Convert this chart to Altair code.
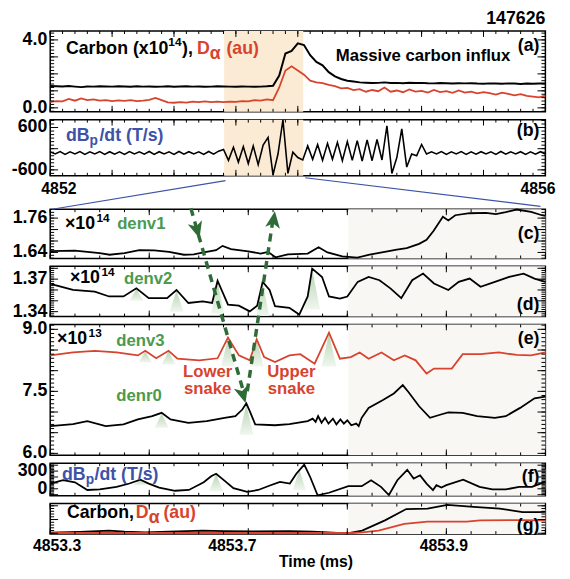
import altair as alt
import numpy as np
import pandas as pd

FONT = "Liberation Sans, Arial, Helvetica, sans-serif"
RED = "#d8432e"
GREEN = "#4b9a4e"
DKGREEN = "#2e6b36"
BLUE = "#3d52a8"
PEACH = "#fbebd4"
PALE = "#f8f7f4"
W = 503

# ---------------- data ----------------
# (a) Carbon (x1e14) and D-alpha (au), one value every 0.05 ms from 4852.00 ms
A_T0, A_DT = 4852.0, 0.05
A_CARBON = [1.28, 1.27, 1.26, 1.28, 1.25, 1.22, 1.26, 1.25, 1.27, 1.26,
            1.25, 1.27, 1.26, 1.24, 1.27, 1.25, 1.26, 1.24, 1.25, 1.27,
            1.24, 1.26, 1.27, 1.25, 1.26, 1.24, 1.25, 1.27, 1.26, 1.25,
            1.24, 1.26, 1.25, 1.24, 1.25, 1.27,
            1.30, 1.90, 3.20, 3.35, 3.80, 3.70, 3.10, 2.70, 2.50, 2.10, 1.85, 1.70, 1.60, 1.55, 1.50,
            1.48, 1.46, 1.47, 1.50, 1.46, 1.47, 1.45, 1.48, 1.46, 1.47,
            1.45, 1.44, 1.46, 1.45, 1.43, 1.45, 1.44, 1.45, 1.43, 1.42,
            1.44, 1.43, 1.42, 1.44, 1.43, 1.41, 1.43, 1.42, 1.43, 1.44]
A_DALPHA = [0.35, 0.40, 0.38, 0.52, 0.42, 0.55, 0.45, 0.50, 0.42, 0.46,
            0.40, 0.44, 0.41, 0.45, 0.40, 0.43, 0.47, 0.58, 0.45, 0.32,
            0.30, 0.34, 0.31, 0.36, 0.33, 0.38, 0.34, 0.36, 0.33, 0.37,
            0.35, 0.40, 0.38, 0.45, 0.42, 0.50, 0.45, 1.20, 2.20, 2.45,
            2.20, 1.95, 1.60, 1.50, 1.45, 1.35, 1.28, 1.15, 1.18, 1.05,
            1.10, 0.95, 1.05, 0.98, 1.20, 0.95, 1.02, 0.92, 1.08, 0.96,
            1.00, 0.90, 1.05, 0.93, 0.98, 0.88, 1.02, 0.90, 0.95, 0.85,
            0.92, 0.86, 0.78, 0.90, 0.82, 0.74, 0.80, 0.70, 0.66, 0.62,
            0.72]
A_SHADE = [4853.405, 4854.044]
A_YTICKS, A_YLABELS = [0, 4], ["0.0", "4.0"]

# (b) dBp/dt (T/s), one value every 0.04 ms from 4852.00 ms
B_T0, B_DT = 4852.0, 0.04
B_DBDT = [-90, -150, -80, -160, -90, -150, -80, -160, -90, -150,
          -80, -160, -85, -155, -90, -160, -80, -150, -90, -155,
          -80, -160, -85, -150, -90, -160, -80, -155, -85, -150,
          -90, -160, -80, -155, -70,
          -20, -330, 40, -380, 60, -420, 80, -450, 100,
          320, -740, -150, 820, -700, -100, -250,
          -320, 80, -300, 120, -330, 150, -300, 180, -340, 200, -330, 230, -350, 250, -340, 260, -320,
          650, -700, -250, 560, -520, -150, -200, 120, -150,
          -90, -150, -80, -160, -90, -150, -80, -160, -90, -155, -85, -150,
          -90, -160, -80, -155, -90, -150, -85, -160, -90, -155, -85, -150]
B_YTICKS, B_YLABELS = [-600, 600], ["-600", "600"]
TOP_TICK_POS = [4852.07, 4855.94]
TOP_TICK_LABELS = ["4852", "4856"]

# lower panels: position inside the zoomed window (0-100 %)
C_T = [0, 5, 10, 12, 15, 18, 21, 24, 27, 29, 31, 33.5, 34.8, 36.5, 40, 42.5, 44, 45.5, 48, 52,
       54.2, 56, 59, 62, 64.5, 67, 70, 72, 74.5, 76, 77.4, 79.3, 80.4, 81.8, 84.7, 88, 90, 92,
       94.2, 97.1, 99.3, 100]
C_V = [1.645, 1.646, 1.638, 1.632, 1.638, 1.648, 1.647, 1.642, 1.632, 1.633,
       1.640, 1.648, 1.663, 1.652, 1.644, 1.636, 1.642, 1.623, 1.633, 1.636,
       1.658, 1.640, 1.626, 1.622, 1.632, 1.640, 1.650, 1.655, 1.670, 1.684,
       1.715, 1.765, 1.752, 1.770, 1.777, 1.778, 1.774, 1.781, 1.790, 1.782,
       1.770, 1.768]
C_YTICKS, C_YLABELS = [1.64, 1.76], ["1.64", "1.76"]

D_T = [0, 1.0, 4.6, 9.0, 11.9, 14.8, 17.4, 19.9, 23.6, 25.5, 27.9,
       30.8, 32.7, 33.8, 35.9, 38.1, 40.3, 41.8, 42.9, 44.3, 45.4,
       48.3, 50.3, 52.0, 52.9, 54.9, 56.3, 58.5, 60.0, 62.1, 64.3,
       66.5, 68.7, 70.9, 73.1, 75.3, 77.5, 80.4, 82.5, 84.7, 86.9,
       89.8, 92.7, 95.6, 97.8, 100]
D_V = [1.3660, 1.3645, 1.3600, 1.3585, 1.3540, 1.3540, 1.3615, 1.3525, 1.3525, 1.3600, 1.3480,
       1.3495, 1.3480, 1.3685, 1.3465, 1.3455, 1.3403, 1.3455, 1.3675, 1.3600, 1.3450,
       1.3435, 1.3373, 1.3540, 1.3797, 1.3720, 1.3540, 1.3520, 1.3540, 1.3675, 1.3720,
       1.3690, 1.3615, 1.3525, 1.3690, 1.3752, 1.3660, 1.3600, 1.3675, 1.3705, 1.3630,
       1.3675, 1.3720, 1.3750, 1.3705, 1.3675]
D_YTICKS, D_YLABELS = [1.34, 1.37], ["1.34", "1.37"]

E3_T = [0, 4.6, 9.0, 13.4, 17.7, 19.2, 21.4, 23.9, 25.7, 30.1,
        33.8, 35.9, 38.1, 40.3, 41.7, 43.2, 45.4, 48.3, 50.5, 53.4,
        56.3, 58.5, 60.7, 62.5, 64.3, 66.9, 69.4, 71.6, 73.8, 76.0,
        77.5, 81.1, 83.3, 86.9, 90.6, 94.2, 97.1, 100]
E3_V = [8.37, 8.44, 8.48, 8.44, 8.37, 8.48, 8.30, 8.48, 8.29, 8.25,
        8.30, 8.80, 8.37, 8.25, 8.76, 8.33, 8.21, 8.37, 8.40, 8.17,
        8.92, 8.29, 8.33, 8.44, 8.29, 8.44, 8.25, 8.37, 8.25, 7.93,
        8.05, 8.05, 8.40, 8.40, 8.44, 8.38, 8.37, 8.44]
E0_T = [0, 4.6, 7.5, 11.2, 14.8, 17.7, 20.6, 22.5, 24.3, 27.9,
        31.6, 35.2, 37.4, 38.8, 39.6, 40.3, 41.4, 45.4, 48.3, 52.0,
        53.0, 53.6, 54.1, 54.8, 55.5, 56.2, 57.1, 57.8, 58.6, 59.3,
        60.0, 60.8, 61.8, 62.3, 62.9, 64.3, 67.2, 69.4, 71.2, 72.3,
        74.5, 76.7, 78.9, 80.4, 83.3, 86.2, 89.8, 92.0, 94.9, 97.8, 100]
E0_V = [6.66, 6.71, 6.78, 6.66, 6.70, 6.82, 6.90, 6.98, 6.82, 6.74,
        6.78, 6.86, 6.90, 7.06, 7.21, 7.02, 6.70, 6.68, 6.71, 6.78,
        6.84, 6.76, 6.90, 6.74, 6.86, 6.72, 6.84, 6.70, 6.82, 6.72,
        6.80, 6.68, 6.72, 6.66, 6.86, 7.10, 7.29, 7.45, 7.65, 7.49,
        7.14, 6.86, 6.94, 6.99, 6.98, 6.90, 6.86, 6.90, 7.10, 7.33, 7.37]
E_YTICKS, E_YLABELS = [6.0, 7.5, 9.0], ["6.0", "7.5", "9.0"]

F_T = [0, 2.6, 5.0, 7.5, 10.0, 13.4, 16.0, 18.2, 19.9, 22.0,
       25.2, 28.0, 31.0, 32.5, 33.5, 35.0, 37.0, 39.8, 42.0, 44.5,
       46.4, 48.4, 49.7, 51.3, 52.5, 54.0, 56.3, 60.2, 62.9, 64.8,
       66.8, 68.4, 70.1, 72.1, 73.4, 74.7, 76.0, 77.3, 78.0, 79.0,
       80.0, 83.4, 86.7, 89.3, 92.0, 94.7, 97.3, 99.0, 100]
F_V = [88, 145, 110, -20, -10, 33, 90, 155, 88, 20,
       -33, -20, 110, 211, 255, 150, 10, -50, -20, 60,
       117, 88, 255, 410, 200, -110, -67, 45, 45, 145,
       33, -105, 145, 322, 172, 228, 88, -22, 61, 22,
       61, 155, 33, -11, -11, 33, 33, 88, 117]
F_YTICKS, F_YLABELS = [0, 300], ["0", "300"]

G_T = [0, 6, 11.9, 15, 19.2, 24, 30.8, 35, 41, 48.3, 53, 57, 60, 63, 67.6, 71.9,
       76.2, 80.2, 85.5, 90.8, 95.4, 98.7, 100]
G_CARBON = [0.02, 0.05, 0.10, 0.06, 0.03, 0.06, 0.10, 0.08, 0.07, 0.08, 0.06, 0.02,
            0.0, 0.1, 0.47, 0.88, 0.90, 1.03, 0.96, 0.90, 0.77, 0.77, 0.78]
GD_T = [0, 30, 61, 63, 66.3, 71.5, 76.2, 84.1, 86.8, 94.8, 100]
GD_V = [0.01, 0.01, 0.01, 0.03, 0.10, 0.34, 0.42, 0.42, 0.47, 0.48, 0.47]

LOW_TICK_POS = [1.4, 36.8, 79.5]
LOW_TICK_LABELS = ["4853.3", "4853.7", "4853.9"]
LOW_PALE = [60.2, 100]

# green highlight glows under peaks: centre, peak value, base value, half width
HL_D = [(17.4, 1.3610, 1.3500, 1.4), (25.5, 1.3595, 1.3400, 1.4), (33.8, 1.3680, 1.3380, 1.3),
        (42.9, 1.3670, 1.3360, 1.3), (52.9, 1.3790, 1.3420, 1.6)]
HL_E = [(19.2, 8.47, 8.20, 1.3), (23.9, 8.47, 8.15, 1.4), (35.9, 8.78, 8.10, 1.4),
        (41.7, 8.74, 8.10, 1.4), (56.3, 8.90, 8.10, 1.5), (22.5, 6.96, 6.62, 1.4),
        (39.6, 7.19, 6.45, 1.4)]
HL_F = [(18.2, 150, 60, 1.6), (33.5, 250, -40, 1.4), (50.3, 330, -20, 1.3)]

# snake arrows (drawn in panel e coordinates) and zoom connector lines (panel c coordinates)
ARROW_L_T, ARROW_L_V = [28.4, 38.9], [11.93, 7.55]
ARROW_R_T, ARROW_R_V = [39.8, 45.1], [7.50, 11.75]
HEAD_T, HEAD_V, HEAD_ANGLE = [29.6, 38.9, 45.1], [11.43, 7.45, 11.62], [344, 344, 188]
BLUE_L_T, BLUE_L_V = [35.4, 0.4], [1.891, 1.791]
BLUE_R_T, BLUE_R_V = [51.5, 99.0], [1.901, 1.801]

# ---------------- helpers ----------------
def sc(lo, hi):
    return alt.Scale(domain=[lo, hi], nice=False, zero=False)

XS_TOP = sc(4852, 4856)
XS_LOW = sc(0, 100)


def grid(lo, hi, step):
    k0 = int(np.ceil(lo / step - 1e-9))
    k1 = int(np.floor(hi / step + 1e-9))
    return [round(k * step, 6) for k in range(k0, k1 + 1)]


def xy(ts, vs):
    return pd.DataFrame({"t": ts, "v": vs})


def line(df, xs, ys, color, width=2.0):
    return alt.Chart(df).mark_line(color=color, strokeWidth=width).encode(
        x=alt.X("t:Q", scale=xs, axis=None), y=alt.Y("v:Q", scale=ys, axis=None))


def txt(s, x, y, color="black", size=18, align="left"):
    return alt.Chart(pd.DataFrame({"s": [s]})).mark_text(
        align=align, baseline="middle", font=FONT, fontSize=size, fontWeight="bold", color=color
    ).encode(x=alt.value(x), y=alt.value(y), text="s:N")


def ylabels(vals, labels, ys):
    return alt.Chart(pd.DataFrame({"v": vals, "s": labels})).mark_text(
        align="right", baseline="middle", font=FONT, fontSize=18, fontWeight="bold", color="black"
    ).encode(y=alt.Y("v:Q", scale=ys, axis=None), x=alt.value(-3), text="s:N")


def xlabels(vals, labels, xs, y):
    return alt.Chart(pd.DataFrame({"t": vals, "s": labels})).mark_text(
        align="center", baseline="middle", font=FONT, fontSize=16, fontWeight="bold", color="black"
    ).encode(x=alt.X("t:Q", scale=xs, axis=None), y=alt.value(y), text="s:N")


def band(xs, lo, hi, color, H):
    return alt.Chart(pd.DataFrame({"t": [lo], "t2": [hi]})).mark_rect(color=color).encode(
        x=alt.X("t:Q", scale=xs, axis=None), x2="t2:Q", y=alt.value(0), y2=alt.value(H))


def ticks(xs, ys, xdom, ydom, xstep, ystep, H):
    layers = []
    for step, L in ((ystep[0], 4), (ystep[1], 8)):
        df = pd.DataFrame({"v": grid(ydom[0], ydom[1], step)})
        r = alt.Chart(df).mark_rule(color="black", strokeWidth=1)
        layers.append(r.encode(y=alt.Y("v:Q", scale=ys, axis=None), x=alt.value(0), x2=alt.value(L)))
        layers.append(r.encode(y=alt.Y("v:Q", scale=ys, axis=None), x=alt.value(W), x2=alt.value(W - L)))
    for step, L in ((xstep[0], 3), (xstep[1], 6)):
        df = pd.DataFrame({"t": grid(xdom[0], xdom[1], step)})
        r = alt.Chart(df).mark_rule(color="black", strokeWidth=1)
        layers.append(r.encode(x=alt.X("t:Q", scale=xs, axis=None), y=alt.value(H), y2=alt.value(H - L)))
        layers.append(r.encode(x=alt.X("t:Q", scale=xs, axis=None), y=alt.value(0), y2=alt.value(L)))
    return layers


def glows(hl, ys):
    rows = []
    for g, (c, pk, base, hw) in enumerate(hl):
        rows += [(g, c - hw, base, base), (g, c, pk, base), (g, c + hw, base, base)]
    df = pd.DataFrame(rows, columns=["g", "t", "v", "v0"])
    grad = {"gradient": "linear", "x1": 0, "x2": 0, "y1": 0, "y2": 1,
            "stops": [{"offset": 0, "color": "#a9cda4"}, {"offset": 1, "color": "#eef5ec"}]}
    return alt.Chart(df).mark_area(color=grad, opacity=0.85).encode(
        x=alt.X("t:Q", scale=XS_LOW, axis=None), y=alt.Y("v:Q", scale=ys, axis=None),
        y2="v0:Q", detail="g:N")


# ---------------- panel (a) ----------------
HA, DOM_A = 82, (-0.232, 4.522)
ys_a = sc(*DOM_A)
a_t = [round(A_T0 + i * A_DT, 4) for i in range(len(A_CARBON))]
pa = alt.layer(
    band(XS_TOP, A_SHADE[0], A_SHADE[1], PEACH, HA),
    line(xy(a_t, A_CARBON), XS_TOP, ys_a, "black", 2),
    line(xy(a_t, A_DALPHA), XS_TOP, ys_a, RED, 1.8),
    *ticks(XS_TOP, ys_a, (4852, 4856), DOM_A, (0.1, 0.5), (0.2, 1.0), HA),
    ylabels(A_YTICKS, A_YLABELS, ys_a),
    txt("147626", W, -12, align="right"),
    txt("Carbon (x10", 16, 18), txt("14", 120, 11, size=12), txt("),", 134, 18),
    txt("D", 149, 18, RED), txt("α", 162, 23, RED), txt("(au)", 179, 18, RED),
    txt("Massive carbon influx", 290, 25, size=17),
    txt("(a)", 497, 15, align="right"),
).properties(width=W, height=HA)

# ---------------- panel (b) ----------------
HB, DOM_B = 57, (-767, 823)
ys_b = sc(*DOM_B)
b_t = [round(B_T0 + i * B_DT, 4) for i in range(len(B_DBDT))]
pb = alt.layer(
    band(XS_TOP, A_SHADE[0], A_SHADE[1], PEACH, HB),
    line(xy(b_t, B_DBDT), XS_TOP, ys_b, "black", 1.6),
    *ticks(XS_TOP, ys_b, (4852, 4856), DOM_B, (0.1, 0.5), (100, 600), HB),
    ylabels(B_YTICKS, B_YLABELS, ys_b),
    xlabels(TOP_TICK_POS, TOP_TICK_LABELS, XS_TOP, HB + 14),
    txt("dB", 16, 17, BLUE), txt("p", 40, 22, BLUE, size=14), txt("/dt (T/s)", 50, 17, BLUE),
    txt("(b)", 497, 12, align="right"),
).properties(width=W, height=HB)

# spacer between the overview and the zoomed panels
spacer = alt.Chart(pd.DataFrame({"s": [""]})).mark_text(opacity=0).encode(
    x=alt.value(0), y=alt.value(0), text="s:N"
).properties(width=W, height=18, view=alt.ViewBackground(stroke="transparent"))

# ---------------- panel (c) ----------------
HC, DOM_C = 50, (1.619, 1.791)
ys_c = sc(*DOM_C)
pc = alt.layer(
    band(XS_LOW, LOW_PALE[0], LOW_PALE[1], PALE, HC),
    line(xy(C_T, C_V), XS_LOW, ys_c, "black", 1.8),
    *ticks(XS_LOW, ys_c, (0, 100), DOM_C, (5, 20), (0.01, 0.04), HC),
    ylabels(C_YTICKS, C_YLABELS, ys_c),
    line(xy(BLUE_L_T, BLUE_L_V), XS_LOW, ys_c, BLUE, 1.2),
    line(xy(BLUE_R_T, BLUE_R_V), XS_LOW, ys_c, BLUE, 1.2),
    txt("×10", 15, 15), txt("14", 47, 9, size=12), txt("denv1", 68, 15, GREEN, size=17),
    txt("(c)", 497, 25, align="right"),
).properties(width=W, height=HC)

# ---------------- panel (d) ----------------
HD, DOM_D = 51, (1.3355, 1.3818)
ys_d = sc(*DOM_D)
pdn = alt.layer(
    band(XS_LOW, LOW_PALE[0], LOW_PALE[1], PALE, HD),
    glows(HL_D, ys_d),
    line(xy(D_T, D_V), XS_LOW, ys_d, "black", 1.8),
    *ticks(XS_LOW, ys_d, (0, 100), DOM_D, (5, 20), (0.002, 0.01), HD),
    ylabels(D_YTICKS, D_YLABELS, ys_d),
    txt("×10", 20, 12), txt("14", 52, 6, size=12), txt("denv2", 75, 13, GREEN, size=17),
    txt("(d)", 497, 39, align="right"),
).properties(width=W, height=HD)

# ---------------- panel (e) ----------------
HE, DOM_E = 133, (5.952, 9.119)
ys_e = sc(*DOM_E)
arrow_path = "M0,1L-0.75,-0.7L0,-0.25L0.75,-0.7Z"
heads = alt.Chart(pd.DataFrame({"t": HEAD_T, "v": HEAD_V, "a": HEAD_ANGLE})).mark_point(
    shape=arrow_path, filled=True, size=400, color=DKGREEN, opacity=1, strokeWidth=0
).encode(x=alt.X("t:Q", scale=XS_LOW, axis=None), y=alt.Y("v:Q", scale=ys_e, axis=None),
         angle=alt.Angle("a:Q", scale=None))
dash = dict(color=DKGREEN, strokeWidth=3.5, strokeDash=[8, 6])
pe = alt.layer(
    band(XS_LOW, LOW_PALE[0], LOW_PALE[1], PALE, HE),
    glows(HL_E, ys_e),
    line(xy(E3_T, E3_V), XS_LOW, ys_e, RED, 1.8),
    line(xy(E0_T, E0_V), XS_LOW, ys_e, "black", 1.8),
    *ticks(XS_LOW, ys_e, (0, 100), DOM_E, (5, 20), (0.1, 0.5), HE),
    ylabels(E_YTICKS, E_YLABELS, ys_e),
    txt("×10", 7, 15), txt("13", 39, 9, size=12), txt("denv3", 67, 17, GREEN, size=17),
    txt("Lower", 160, 48, RED, size=17, align="center"), txt("snake", 160, 66, RED, size=17, align="center"),
    txt("Upper", 245, 48, RED, size=17, align="center"), txt("snake", 245, 66, RED, size=17, align="center"),
    txt("denr0", 67, 73, GREEN, size=17),
    txt("(e)", 497, 15, align="right"),
    alt.Chart(xy(ARROW_L_T, ARROW_L_V)).mark_line(**dash).encode(
        x=alt.X("t:Q", scale=XS_LOW, axis=None), y=alt.Y("v:Q", scale=ys_e, axis=None)),
    alt.Chart(xy(ARROW_R_T, ARROW_R_V)).mark_line(**dash).encode(
        x=alt.X("t:Q", scale=XS_LOW, axis=None), y=alt.Y("v:Q", scale=ys_e, axis=None)),
    heads,
).properties(width=W, height=HE)

# ---------------- panel (f) ----------------
HF, DOM_F = 33, (-117, 433)
ys_f = sc(*DOM_F)
pf = alt.layer(
    band(XS_LOW, LOW_PALE[0], LOW_PALE[1], PALE, HF),
    glows(HL_F, ys_f),
    line(xy(F_T, F_V), XS_LOW, ys_f, "black", 1.8),
    *ticks(XS_LOW, ys_f, (0, 100), DOM_F, (5, 20), (25, 100), HF),
    ylabels(F_YTICKS, F_YLABELS, ys_f),
    txt("dB", 12, 12, BLUE), txt("p", 36, 17, BLUE, size=14), txt("/dt (T/s)", 45, 12, BLUE),
    txt("(f)", 497, 14, align="right"),
).properties(width=W, height=HF)

# ---------------- panel (g) ----------------
HG, DOM_G = 31, (-0.03, 1.08)
ys_g = sc(*DOM_G)
pg = alt.layer(
    band(XS_LOW, LOW_PALE[0], LOW_PALE[1], PALE, HG),
    line(xy(G_T, G_CARBON), XS_LOW, ys_g, "black", 1.8),
    line(xy(GD_T, GD_V), XS_LOW, ys_g, RED, 1.8),
    *ticks(XS_LOW, ys_g, (0, 100), DOM_G, (5, 20), (0.1, 0.5), HG),
    xlabels(LOW_TICK_POS, LOW_TICK_LABELS, XS_LOW, HG + 12),
    txt("Time (ms)", 270, HG + 28, size=16, align="center"),
    txt("Carbon,", 17, 10), txt("D", 87, 10, RED), txt("α", 100, 15, RED), txt("(au)", 115, 10, RED),
    txt("(g)", 497, 23, align="right"),
).properties(width=W, height=HG)

chart = alt.vconcat(pa, pb, spacer, pc, pdn, pe, pf, pg, spacing=8, bounds="flush").properties(
    padding={"left": 11, "top": 5, "right": 13, "bottom": 0}, background="white"
).configure_view(stroke="black", strokeWidth=1.5)

chart.save("out.html", embed_options={"renderer": "svg", "actions": False})
